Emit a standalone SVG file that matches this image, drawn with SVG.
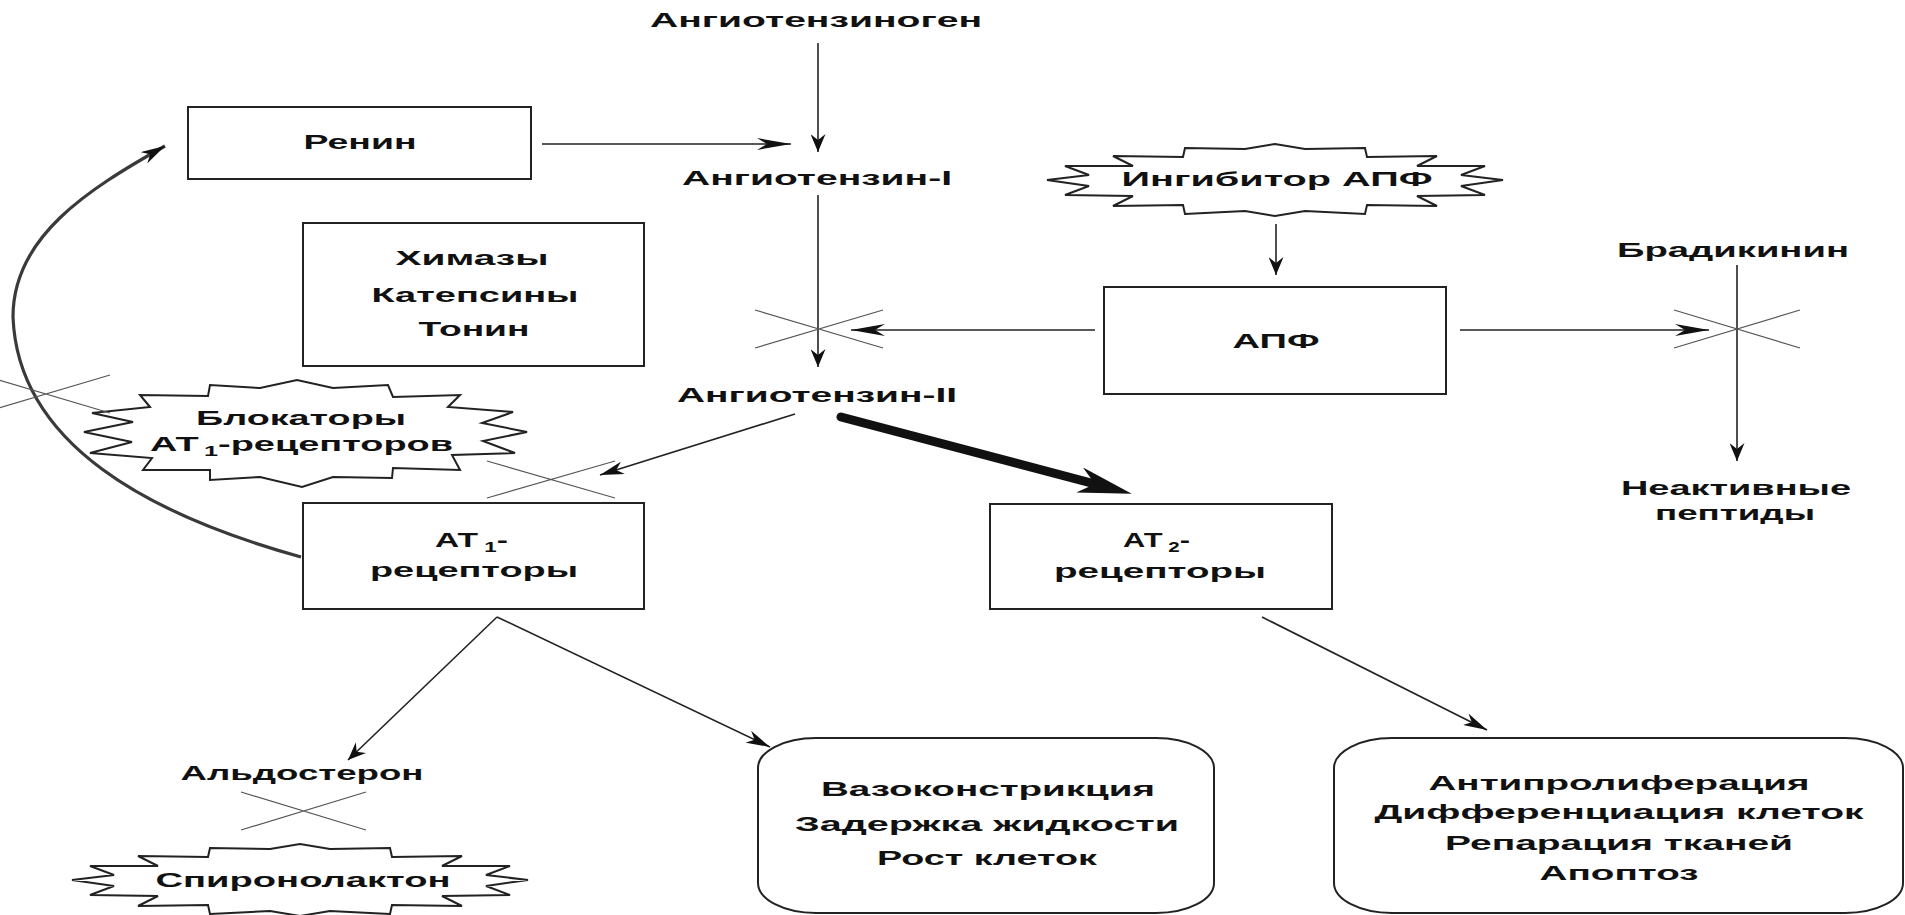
<svg xmlns="http://www.w3.org/2000/svg" width="1905" height="915" viewBox="0 0 1905 915">
<style>
  text { font-family: "Liberation Sans", Arial, sans-serif; font-weight: bold; font-size: 21px; fill: #111; }
  .c { text-anchor: middle; }
  .box { fill: none; stroke: #222; stroke-width: 2; }
  .burst { fill: #fff; stroke: #222; stroke-width: 2; stroke-linejoin: miter; }
  .ln { fill: none; stroke: #222; stroke-width: 1.6; }
  .x { stroke: #555; stroke-width: 1.2; fill: none; }
  .curve { fill: none; stroke: #3a3a3a; stroke-width: 3.2; }
  .thick { fill: none; stroke: #111; stroke-width: 9; stroke-linecap: round; }
</style>
<defs>
  <marker id="ah" markerUnits="userSpaceOnUse" viewBox="0 0 34 12" refX="34" refY="6" markerWidth="34" markerHeight="12" orient="auto">
    <path d="M0,0 L34,6 L0,12 L10,6 z" fill="#111"/>
  </marker>
  <marker id="av" markerUnits="userSpaceOnUse" viewBox="0 0 18 15" refX="18" refY="7.5" markerWidth="18" markerHeight="15" orient="auto">
    <path d="M0,0 L18,7.5 L0,15 L6,7.5 z" fill="#111"/>
  </marker>
  <marker id="ad" markerUnits="userSpaceOnUse" viewBox="0 0 24 13" refX="24" refY="6.5" markerWidth="24" markerHeight="13" orient="auto">
    <path d="M0,0 L24,6.5 L0,13 L7,6.5 z" fill="#111"/>
  </marker>
  <marker id="at" markerUnits="userSpaceOnUse" viewBox="0 0 54 26" refX="16" refY="13" markerWidth="54" markerHeight="26" orient="auto">
    <path d="M0,0 L54,13 L0,26 L16,13 z" fill="#111"/>
  </marker>
  <path id="burst" class="burst" d="M-92,-23 L-90,-32 L-30,-31 L0,-36 L30,-31 L90,-32 L92,-23 L162,-24 L142,-14 L210,-14 L186,-5 L228,0 L186,6 L210,15 L142,16 L162,26 L92,25 L90,34 L30,31 L0,36 L-30,31 L-90,34 L-92,25 L-162,26 L-142,16 L-210,15 L-186,6 L-228,0 L-186,-5 L-210,-14 L-142,-14 L-162,-24 Z"/>
</defs>

<g id="n-angiotensinogen">
  <text class="c" x="816" y="27" textLength="332" lengthAdjust="spacingAndGlyphs">Ангиотензиноген</text>
</g>
<g id="n-renin">
  <rect class="box" x="188" y="107" width="343" height="72"/>
  <text class="c" x="360" y="149" textLength="113" lengthAdjust="spacingAndGlyphs">Ренин</text>
</g>
<g id="n-angiotensin1">
  <text class="c" x="817" y="185" textLength="270" lengthAdjust="spacingAndGlyphs">Ангиотензин-I</text>
</g>
<g id="n-chymases">
  <rect class="box" x="303" y="223" width="341" height="143"/>
  <text class="c" x="472" y="265" textLength="153" lengthAdjust="spacingAndGlyphs">Химазы</text>
  <text class="c" x="475" y="302" textLength="207" lengthAdjust="spacingAndGlyphs">Катепсины</text>
  <text class="c" x="474" y="336" textLength="111" lengthAdjust="spacingAndGlyphs">Тонин</text>
</g>
<g id="n-angiotensin2">
  <text class="c" x="817" y="402" textLength="280" lengthAdjust="spacingAndGlyphs">Ангиотензин-II</text>
</g>
<g id="n-ace-inhibitor">
  <use href="#burst" x="1275" y="180"/>
  <text class="c" x="1277" y="186" textLength="311" lengthAdjust="spacingAndGlyphs">Ингибитор АПФ</text>
</g>
<g id="n-ace">
  <rect class="box" x="1104" y="287" width="342" height="107"/>
  <text class="c" x="1276" y="348" textLength="87" lengthAdjust="spacingAndGlyphs">АПФ</text>
</g>
<g id="n-bradykinin">
  <text class="c" x="1733" y="257" textLength="232" lengthAdjust="spacingAndGlyphs">Брадикинин</text>
</g>
<g id="n-inactive">
  <text class="c" x="1736" y="495" textLength="230" lengthAdjust="spacingAndGlyphs">Неактивные</text>
  <text class="c" x="1735" y="520" textLength="160" lengthAdjust="spacingAndGlyphs">пептиды</text>
</g>
<g id="n-at1-blockers">
  <path class="burst" d="M150,407 L140,395 L208,396 L210,385 L260,388 L297,380 L333,388 L388,385 L393,397 L460,395 L448,407 L513,412 L482,423 L527,432 L483,441 L515,453 L452,455 L460,470 L393,468 L392,478 L333,477 L302,487 L260,477 L210,480 L210,470 L143,470 L152,458 L90,453 L132,442 L84,432 L133,422 L92,413 Z"/>
  <text class="c" x="301" y="425" textLength="210" lengthAdjust="spacingAndGlyphs">Блокаторы</text>
  <text x="150" y="451" textLength="303" lengthAdjust="spacingAndGlyphs">АТ<tspan dx="3" dy="5" font-size="14">1</tspan><tspan dy="-5">-рецепторов</tspan></text>
</g>
<g id="n-at1">
  <rect class="box" x="303" y="503" width="341" height="106"/>
  <text x="435" y="547" textLength="73" lengthAdjust="spacingAndGlyphs">АТ<tspan dx="4" dy="5" font-size="14">1</tspan><tspan dy="-5">-</tspan></text>
  <text class="c" x="474" y="577" textLength="208" lengthAdjust="spacingAndGlyphs">рецепторы</text>
</g>
<g id="n-at2">
  <rect class="box" x="990" y="504" width="342" height="105"/>
  <text x="1123" y="547" textLength="67" lengthAdjust="spacingAndGlyphs">АТ<tspan dx="4" dy="5" font-size="14">2</tspan><tspan dy="-5">-</tspan></text>
  <text class="c" x="1160" y="578" textLength="212" lengthAdjust="spacingAndGlyphs">рецепторы</text>
</g>
<g id="n-aldosterone">
  <text class="c" x="302" y="780" textLength="243" lengthAdjust="spacingAndGlyphs">Альдостерон</text>
</g>
<g id="n-spironolactone">
  <use href="#burst" x="300" y="880"/>
  <text class="c" x="303" y="887" textLength="295" lengthAdjust="spacingAndGlyphs">Спиронолактон</text>
</g>
<g id="n-at1-effects">
  <rect class="box" x="758" y="738" width="456" height="175" rx="58" ry="30"/>
  <text class="c" x="988" y="796" textLength="334" lengthAdjust="spacingAndGlyphs">Вазоконстрикция</text>
  <text class="c" x="987" y="831" textLength="384" lengthAdjust="spacingAndGlyphs">Задержка жидкости</text>
  <text class="c" x="987" y="865" textLength="220" lengthAdjust="spacingAndGlyphs">Рост клеток</text>
</g>
<g id="n-at2-effects">
  <rect class="box" x="1334" y="738" width="569" height="175" rx="58" ry="30"/>
  <text class="c" x="1619" y="790" textLength="381" lengthAdjust="spacingAndGlyphs">Антипролиферация</text>
  <text class="c" x="1619" y="819" textLength="489" lengthAdjust="spacingAndGlyphs">Дифференциация клеток</text>
  <text class="c" x="1619" y="850" textLength="348" lengthAdjust="spacingAndGlyphs">Репарация тканей</text>
  <text class="c" x="1619" y="880" textLength="159" lengthAdjust="spacingAndGlyphs">Апоптоз</text>
</g>

<g id="connectors">
  <line class="ln" x1="818" y1="43" x2="818" y2="152" marker-end="url(#av)"/>
  <line class="ln" x1="542" y1="144" x2="791" y2="144" marker-end="url(#ah)"/>
  <line class="ln" x1="818" y1="195" x2="818" y2="367" marker-end="url(#av)"/>
  <line class="ln" x1="1095" y1="330" x2="851" y2="330" marker-end="url(#ah)"/>
  <line class="ln" x1="1276" y1="224" x2="1276" y2="275" marker-end="url(#av)"/>
  <line class="ln" x1="1460" y1="330" x2="1709" y2="330" marker-end="url(#ah)"/>
  <line class="ln" x1="1737" y1="265" x2="1737" y2="461" marker-end="url(#av)"/>
  <line class="ln" x1="795" y1="414" x2="600" y2="475" marker-end="url(#ad)"/>
  <line class="thick" x1="841" y1="417" x2="1095" y2="484" marker-end="url(#at)"/>
  <line class="ln" x1="497" y1="617" x2="348" y2="760" marker-end="url(#av)"/>
  <line class="ln" x1="497" y1="617" x2="770" y2="747" marker-end="url(#ad)"/>
  <line class="ln" x1="1262" y1="617" x2="1487" y2="730" marker-end="url(#ad)"/>
  <path class="curve" d="M301,557 C150,515 18,445 13,317 C13,237 87,190 165,146" marker-end="url(#ad)"/>
</g>

<g id="blocks">
  <path class="x" d="M755,310 L883,348 M755,348 L883,310"/>
  <path class="x" d="M1674,310 L1800,348 M1674,348 L1800,310"/>
  <path class="x" d="M487,461 L615,498 M487,498 L615,461"/>
  <path class="x" d="M-18,375 L110,413 M-18,413 L110,375"/>
  <path class="x" d="M241,792 L366,830 M241,830 L366,792"/>
</g>
</svg>
